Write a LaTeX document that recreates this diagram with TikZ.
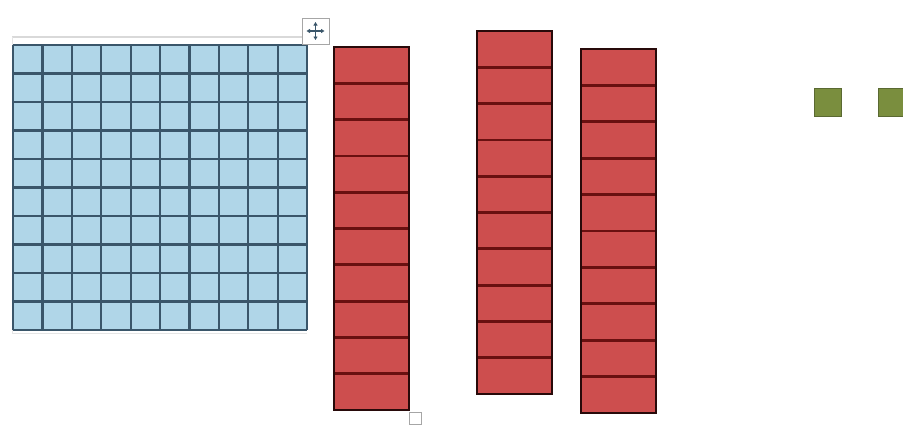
\documentclass[tikz,border=0pt]{standalone}
\usetikzlibrary{arrows.meta}
\definecolor{gridfill}{RGB}{176,214,232}
\definecolor{gridline}{RGB}{58,86,106}
\definecolor{barfill}{RGB}{205,78,78}
\definecolor{barline}{RGB}{105,16,16}
\definecolor{barborder}{RGB}{40,10,10}
\definecolor{sqfill}{RGB}{122,142,62}
\definecolor{sqline}{RGB}{90,105,50}
\tikzset{
  gridcell/.style={fill=gridfill},
  gridrule/.style={draw=gridline, line width=2.2pt},
  barbox/.style={fill=barfill, draw=barborder, line width=2.2pt},
  barrule/.style={draw=barline, line width=2.8pt},
  unitsq/.style={fill=sqfill, draw=sqline, line width=1pt},
  handle/.style={draw=gray!70, fill=white, line width=0.8pt},
  movearrow/.style={draw=gridline, line width=1.2pt, -{Triangle[length=3.5pt,width=4pt]}}
}
\newcommand{\redbar}[3]{% x, top, bottom
  \path[barbox] (#1,#2) rectangle ++(75,#3-#2);
  \foreach \k in {1,...,9}{
    \draw[barrule] (#1,{#2+\k*(#3-#2)/10}) -- ++(75,0);
  }
  \path[draw=barborder, line width=2.2pt] (#1,#2) rectangle ++(75,#3-#2);
}
\begin{document}
\begin{tikzpicture}[x=1pt,y=-1pt]
\useasboundingbox[fill=white] (0,0) rectangle (903,426);
% faint table frame
\draw[gray!30, line width=1.5pt] (12,37) -- (307,37);
\draw[gray!20, line width=1pt] (12,37) -- (12,333) -- (307,333);
% hundred grid
\path[gridcell] (13,45) rectangle (307,330);
\foreach \i in {0,...,10}{
  \draw[gridrule] ({13+\i*29.4},45) -- ({13+\i*29.4},330);
  \draw[gridrule] (13,{45+\i*28.5}) -- (307,{45+\i*28.5});
}
% move handle
\path[handle] (302,18) rectangle (329,44);
\draw[movearrow] (315.5,31) -- (315.5,22);
\draw[movearrow] (315.5,31) -- (315.5,40);
\draw[movearrow] (315.5,31) -- (306.5,31);
\draw[movearrow] (315.5,31) -- (324.5,31);
% ten bars
\redbar{334}{47}{410}
\redbar{477}{31}{394}
\redbar{581}{49}{413}
% resize handle
\path[handle] (409,412) rectangle (421,424);
% unit squares
\path[unitsq] (814,88) rectangle (841,116);
\path[unitsq] (878,88) rectangle (905,116);
\end{tikzpicture}
\end{document}
